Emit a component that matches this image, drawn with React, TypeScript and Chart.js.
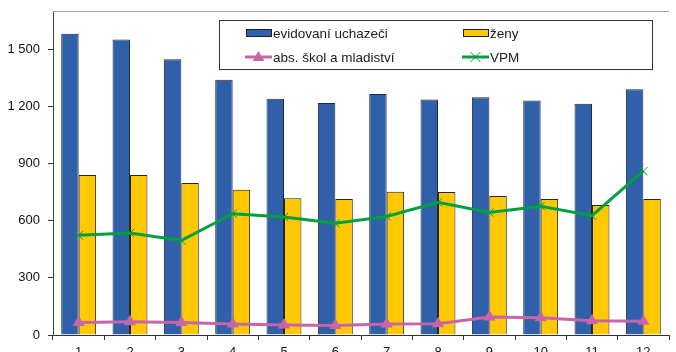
import React, { useEffect, useRef } from "react";
import { Chart, registerables } from "chart.js";

Chart.register(...registerables);

const categories = ["1", "2", "3", "4", "5", "6", "7", "8", "9", "10", "11", "12"];
const evidovani = [1580, 1550, 1447, 1339, 1239, 1217, 1264, 1236, 1248, 1231, 1213, 1290];
const zeny = [839, 840, 797, 762, 718, 713, 752, 750, 729, 713, 682, 713];
const absSkol = [65, 70, 65, 58, 52, 50, 58, 59, 94, 91, 75, 72];
const vpm = [523, 535, 496, 636, 619, 586, 622, 696, 643, 676, 626, 860];
const yTicks = [0, 300, 600, 900, 1200, 1500];

const FONT = "'Liberation Sans', Arial, sans-serif";
const BLUE = "#2F60A9";
const YELLOW = "#FFC800";
const PINK = "#C865A8";
const GREEN = "#00A040";

const fmt = (v: number) => String(v).replace(/\B(?=(\d{3})+(?!\d))/g, " ");

const framePlugin = {
  id: "frame",
  afterDraw(chart: any) {
    const { ctx, chartArea } = chart;
    ctx.save();
    ctx.strokeStyle = "#A0A0A0";
    ctx.lineWidth = 1;
    ctx.beginPath();
    ctx.moveTo(chartArea.left, chartArea.top + 0.5);
    ctx.lineTo(chartArea.right, chartArea.top + 0.5);
    ctx.stroke();

    // legend
    const bx = 219, by = 20, bw = 433, bh = 49;
    ctx.fillStyle = "#fff";
    ctx.fillRect(bx, by, bw, bh);
    ctx.strokeStyle = "#333";
    ctx.strokeRect(bx + 0.5, by + 0.5, bw, bh);
    ctx.font = "13.5px " + FONT;
    ctx.textBaseline = "middle";
    const ds = chart.data.datasets;
    const r1 = 33, r2 = 57;
    const c1 = 246, c2 = 463, sw = 25;
    const rect = (x: number, y: number, color: string) => {
      ctx.fillStyle = color;
      ctx.fillRect(x, y - 4, sw, 7);
      ctx.strokeStyle = "#222";
      ctx.strokeRect(x + 0.5, y - 3.5, sw, 7);
    };
    rect(c1, r1, BLUE);
    rect(c2, r1, YELLOW);
    ctx.lineWidth = 3;
    ctx.strokeStyle = PINK;
    ctx.beginPath();
    ctx.moveTo(c1 - 1, r2);
    ctx.lineTo(c1 + sw + 1, r2);
    ctx.stroke();
    ctx.fillStyle = PINK;
    const mx = c1 + sw / 2;
    ctx.beginPath();
    ctx.moveTo(mx, r2 - 6);
    ctx.lineTo(mx + 6, r2 + 4);
    ctx.lineTo(mx - 6, r2 + 4);
    ctx.closePath();
    ctx.fill();
    ctx.strokeStyle = GREEN;
    ctx.beginPath();
    ctx.moveTo(c2 - 1, r2);
    ctx.lineTo(c2 + sw + 1, r2);
    ctx.stroke();
    ctx.lineWidth = 1;
    const gx = c2 + sw / 2;
    ctx.beginPath();
    ctx.moveTo(gx - 5, r2 - 5);
    ctx.lineTo(gx + 5, r2 + 5);
    ctx.moveTo(gx + 5, r2 - 5);
    ctx.lineTo(gx - 5, r2 + 5);
    ctx.stroke();
    ctx.fillStyle = "#1a1a1a";
    ctx.textAlign = "left";
    ctx.fillText(ds[0].label, c1 + sw + 2, r1 + 1);
    ctx.fillText(ds[1].label, c2 + sw + 2, r1 + 1);
    ctx.fillText(ds[3].label, c1 + sw + 2, r2 + 1);
    ctx.fillText(ds[2].label, c2 + sw + 2, r2 + 1);
    ctx.restore();
  },
};

export default function App() {
  const ref = useRef<HTMLCanvasElement | null>(null);
  useEffect(() => {
    if (!ref.current) return;
    const chart = new Chart(ref.current, {
      type: "bar",
      data: {
        labels: categories,
        datasets: [
          {
            type: "bar",
            label: "evidovaní uchazeči",
            data: evidovani,
            backgroundColor: BLUE,
            borderColor: "#1E2A44",
            borderWidth: 1,
            barPercentage: 1,
            categoryPercentage: 0.68,
            order: 2,
          },
          {
            type: "bar",
            label: "ženy",
            data: zeny,
            backgroundColor: YELLOW,
            borderColor: "#2A2410",
            borderWidth: 1,
            barPercentage: 1,
            categoryPercentage: 0.68,
            order: 2,
          },
          {
            type: "line",
            label: "VPM",
            data: vpm,
            borderColor: GREEN,
            backgroundColor: GREEN,
            borderWidth: 3,
            pointStyle: "crossRot",
            pointRadius: 6,
            pointBorderWidth: 1,
            pointBorderColor: GREEN,
            tension: 0,
            order: 1,
          },
          {
            type: "line",
            label: "abs. škol a mladiství",
            data: absSkol,
            borderColor: PINK,
            backgroundColor: PINK,
            borderWidth: 3,
            pointStyle: "triangle",
            pointRadius: 7,
            pointBorderWidth: 0,
            pointBackgroundColor: PINK,
            tension: 0,
            order: 1,
          },
        ],
      } as any,
      options: {
        responsive: false,
        animation: false,
        devicePixelRatio: 1,
        layout: { padding: { top: 11, right: 0, left: 0, bottom: 0 } },
        plugins: { legend: { display: false }, tooltip: { enabled: false } },
        scales: {
          x: {
            offset: true,
            grid: {
              offset: true,
              drawOnChartArea: false,
              drawTicks: true,
              tickLength: 5,
              color: "#333",
            },
            border: { display: true, color: "#333", width: 1 },
            ticks: {
              color: "#111",
              font: { family: FONT, size: 13 },
              padding: 5,
              maxRotation: 0,
            },
            afterFit: (s: any) => {
              s.height = 17;
              s.paddingLeft = 0;
              s.paddingRight = 0;
            },
          },
          y: {
            min: 0,
            max: 1700,
            grid: {
              drawOnChartArea: false,
              drawTicks: true,
              tickLength: 5,
              color: "#333",
            },
            border: { display: true, color: "#444", width: 1 },
            ticks: {
              stepSize: 300,
              color: "#111",
              font: { family: FONT, size: 13 },
              padding: 8,
              callback: (v: any) => fmt(Number(v)),
            },
            afterBuildTicks: (s: any) => {
              s.ticks = yTicks.map((v) => ({ value: v }));
            },
            afterFit: (s: any) => {
              s.width = 53;
              s.paddingTop = 0;
              s.paddingBottom = 0;
            },
          },
        },
      } as any,
      plugins: [framePlugin],
    });
    return () => chart.destroy();
  }, []);
  return (
    <div style={{ position: "absolute", left: 0, top: 0, width: 676, height: 352, background: "#fff" }}>
      <canvas ref={ref} width={676} height={352} style={{ display: "block" }} />
    </div>
  );
}
